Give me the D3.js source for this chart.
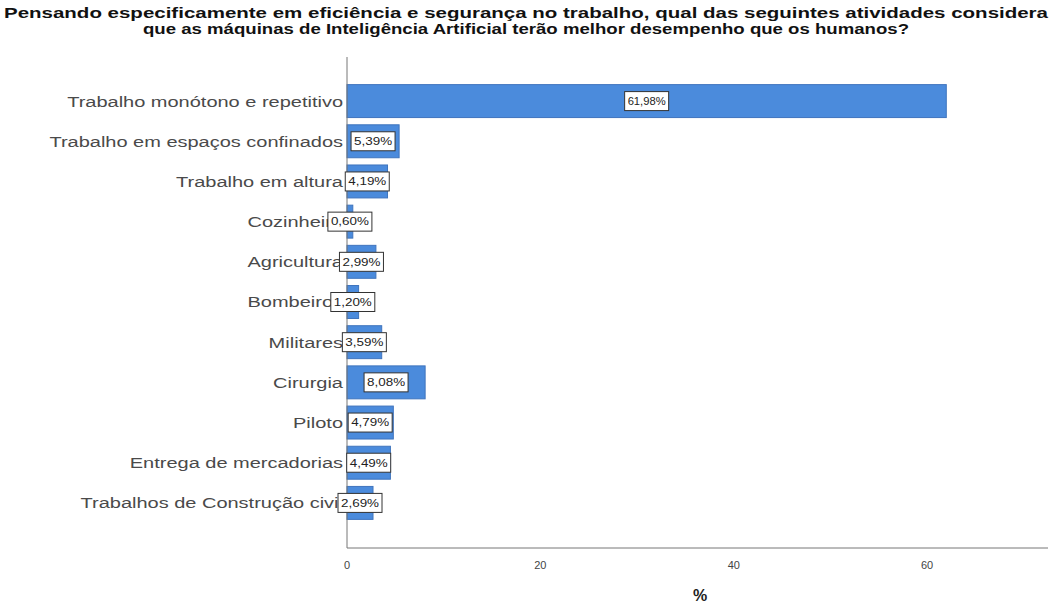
<!DOCTYPE html>
<html>
<head>
<meta charset="utf-8">
<script src="https://cdn.jsdelivr.net/npm/d3@7"></script>
<style>
  body { margin: 0; background: #fff; }
  text { font-family: "Liberation Sans", Arial, sans-serif; }
</style>
</head>
<body>
<div id="chart"></div>
<script>
// chart data
var categories = [
  "Trabalho monótono e repetitivo",
  "Trabalho em espaços confinados",
  "Trabalho em altura",
  "Cozinheiro",
  "Agricultura",
  "Bombeiros",
  "Militares",
  "Cirurgia",
  "Piloto",
  "Entrega de mercadorias",
  "Trabalhos de Construção civil"
];
var percents = [61.98, 5.39, 4.19, 0.60, 2.99, 1.20, 3.59, 8.08, 4.79, 4.49, 2.69];
var xTicks = [0, 20, 40, 60];
var titleLines = [
  "Pensando especificamente em eficiência e segurança no trabalho, qual das seguintes atividades considera",
  "que as máquinas de Inteligência Artificial terão melhor desempenho que os humanos?"
];

var svgWidth = 1051;
var svgHeight = 608;

var svg = d3.select("#chart")
  .append("svg")
  .attr("width", svgWidth)
  .attr("height", svgHeight);

var data = categories.map(function(c, i) {
  return { name: c, value: percents[i] };
});

var x = d3.scaleLinear()
  .domain([0, 72.5])
  .range([347, 1048]);

var y = d3.scaleBand()
  .domain(categories)
  .range([81, 523])
  .paddingInner(0.18)
  .paddingOuter(0.09);

// title (the source font is condensed, so squeeze to the measured widths)
var titleWidths = [1044, 766];
svg.append("g")
  .selectAll("text")
  .data(titleLines)
  .enter()
  .append("text")
  .attr("x", 526)
  .attr("y", function(d, i) { return 18 + i * 16; })
  .attr("text-anchor", "middle")
  .attr("textLength", function(d, i) { return titleWidths[i]; })
  .attr("lengthAdjust", "spacingAndGlyphs")
  .style("font-size", "15.5px")
  .style("font-weight", "bold")
  .style("fill", "#111")
  .text(function(d) { return d; });

// y labels, stretched a bit wider like the original
svg.append("g")
  .selectAll("text")
  .data(data)
  .enter()
  .append("text")
  .attr("transform", function(d) {
    return "translate(343," + (y(d.name) + y.bandwidth() / 2) + ") scale(1.29,1)";
  })
  .attr("dy", "0.35em")
  .attr("text-anchor", "end")
  .style("font-size", "15.5px")
  .style("fill", "#4a4a4a")
  .text(function(d) { return d.name; });

// bars
svg.append("g")
  .selectAll("rect")
  .data(data)
  .enter()
  .append("rect")
  .attr("x", x(0))
  .attr("y", function(d) { return y(d.name); })
  .attr("width", function(d) { return x(d.value) - x(0); })
  .attr("height", y.bandwidth())
  .attr("fill", "#4b8bdc")
  .attr("stroke", "#3f74bd")
  .attr("stroke-width", 1);

// axes
var axisG = svg.append("g").attr("class", "axis");
axisG.append("line")
  .attr("x1", x(0)).attr("x2", x(0))
  .attr("y1", 57).attr("y2", 548)
  .attr("stroke", "#777");
axisG.append("line")
  .attr("x1", x(0)).attr("x2", 1048)
  .attr("y1", 548).attr("y2", 548)
  .attr("stroke", "#777");

axisG.selectAll("text.tick")
  .data(xTicks)
  .enter()
  .append("text")
  .attr("class", "tick")
  .attr("x", function(d) { return x(d); })
  .attr("y", 569)
  .attr("text-anchor", "middle")
  .style("font-size", "11px")
  .style("fill", "#444")
  .text(function(d) { return d; });

svg.append("text")
  .attr("x", 700)
  .attr("y", 601)
  .attr("text-anchor", "middle")
  .style("font-size", "16px")
  .style("font-weight", "bold")
  .style("fill", "#222")
  .text("%");

// value labels
var labels = svg.append("g")
  .selectAll("g")
  .data(data)
  .enter()
  .append("g")
  .attr("transform", function(d) {
    return "translate(" + ((x(0) + x(d.value)) / 2) + "," + (y(d.name) + y.bandwidth() / 2) + ")";
  });

labels.append("rect")
  .attr("x", -22)
  .attr("y", -9.5)
  .attr("width", 44)
  .attr("height", 19)
  .attr("fill", "#fff")
  .attr("stroke", "#333")
  .attr("stroke-width", 1);

labels.append("text")
  .attr("text-anchor", "middle")
  .attr("dy", "0.35em")
  .attr("textLength", 38)
  .attr("lengthAdjust", "spacingAndGlyphs")
  .style("font-size", "11px")
  .style("fill", "#222")
  .text(function(d) { return d.value.toFixed(2).replace(".", ",") + "%"; });
</script>
</body>
</html>
